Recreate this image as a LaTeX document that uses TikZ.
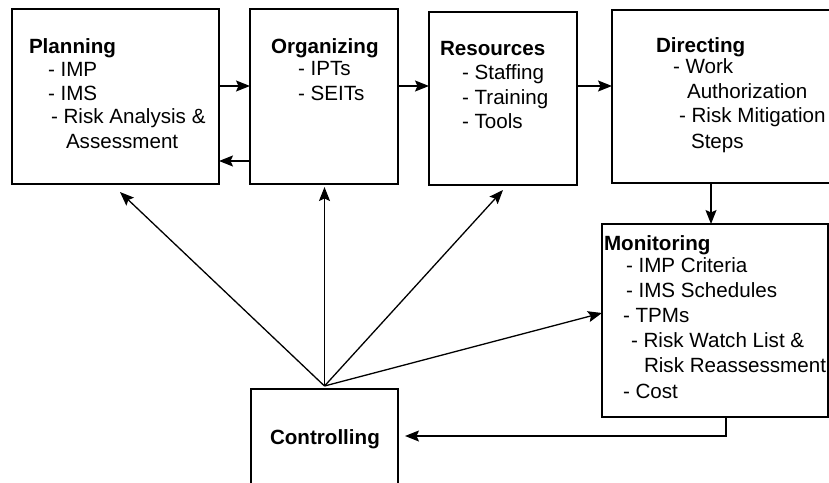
\documentclass[tikz,border=0pt]{standalone}
\usepackage{fontspec}
\setmainfont{Liberation Sans}
\usetikzlibrary{arrows.meta,calc}
\begin{document}
\begin{tikzpicture}[x=1pt,y=-1pt,
  box/.style={draw,line width=1.6pt,inner sep=0pt,outer sep=0pt,rectangle},
  txt/.style={anchor=base west,inner sep=0pt,outer sep=0pt,font=\fontsize{20.6}{24}\selectfont},
  hd/.style={txt,font=\fontsize{20.6}{24}\selectfont\bfseries},
  arr/.style={line width=1.3pt,-{Stealth[length=14pt,width=11pt,inset=2.5pt]}}]
\useasboundingbox (0,0) rectangle (829,482);
\clip (0,0) rectangle (829,482);
% boxes
\node[box,minimum width=207pt,minimum height=175pt] (P) at (115.5,96.5) {};
\node[box,minimum width=148pt,minimum height=175pt] (O) at (324,96.5) {};
\node[box,minimum width=148pt,minimum height=173pt] (R) at (503,98.5) {};
\node[box,minimum width=248pt,minimum height=173pt] (D) at (736,96.5) {};
\node[box,minimum width=226pt,minimum height=193pt] (M) at (715,320.5) {};
\node[box,minimum width=147pt,minimum height=142pt] (C) at (324.5,460) {};
% texts
\node[hd] (p0) at (29,53) {Planning};
\node[txt] (p1) at (48,76) {- IMP};
\node[txt] (p2) at (48,100) {- IMS};
\node[txt] (p3) at (51,123) {- Risk Analysis \&};
\node[txt] (p4) at (66,148) {Assessment};
\node[hd] (o0) at (271,53) {Organizing};
\node[txt] (o1) at (298,75) {- IPTs};
\node[txt] (o2) at (298,100) {- SEITs};
\node[hd] (r0) at (440,55) {Resources};
\node[txt] (r1) at (462,79) {- Staffing};
\node[txt] (r2) at (462,104) {- Training};
\node[txt] (r3) at (462,128) {- Tools};
\node[hd] (d0) at (656,52) {Directing};
\node[txt] (d1) at (673,73) {- Work};
\node[txt] (d2) at (687,98) {Authorization};
\node[txt] (d3) at (679,122) {- Risk Mitigation};
\node[txt] (d4) at (691,148) {Steps};
\node[hd] (m0) at (604,250) {Monitoring};
\node[txt] (m1) at (626,272) {- IMP Criteria};
\node[txt] (m2) at (626,297) {- IMS Schedules};
\node[txt] (m3) at (623,322) {- TPMs};
\node[txt] (m4) at (631,347) {- Risk Watch List \&};
\node[txt] (m5) at (644,372) {Risk Reassessment};
\node[txt] (m6) at (623,398) {- Cost};
\node[hd] (c0) at (270,444) {Controlling};
% connectors
\draw[arr] ([yshift=10.5pt]P.east) -- ([yshift=10.5pt]O.west);
\draw[arr] ([yshift=-64.5pt]O.west) -- ([yshift=-64.5pt]P.east);
\draw[arr] ([yshift=10.5pt]O.east) -- ([yshift=12.5pt]R.west);
\draw[arr] ([yshift=12.5pt]R.east) -- ([yshift=10.5pt]D.west);
\coordinate (c1) at (711,200);
\draw[arr] (D.south -| c1) -- (M.north -| c1);
\coordinate (c2) at (726,436);
\draw[arr] (M.south -| c2) -- (c2) -- ($(C.east |- c2)+(7,0)$);
\coordinate (apex) at ($(C.north)+(0,-3)$);
\draw[arr] (apex) -- ($(P.south)+(4.5,8)$);
\draw[arr] (apex) -- ($(apex |- O.south)+(0,3)$);
\draw[arr] (apex) -- ($(R.south)+(0,5)$);
\draw[arr] (apex) -- ($(M.west)+(0,-7.5)$);
\end{tikzpicture}
\end{document}
